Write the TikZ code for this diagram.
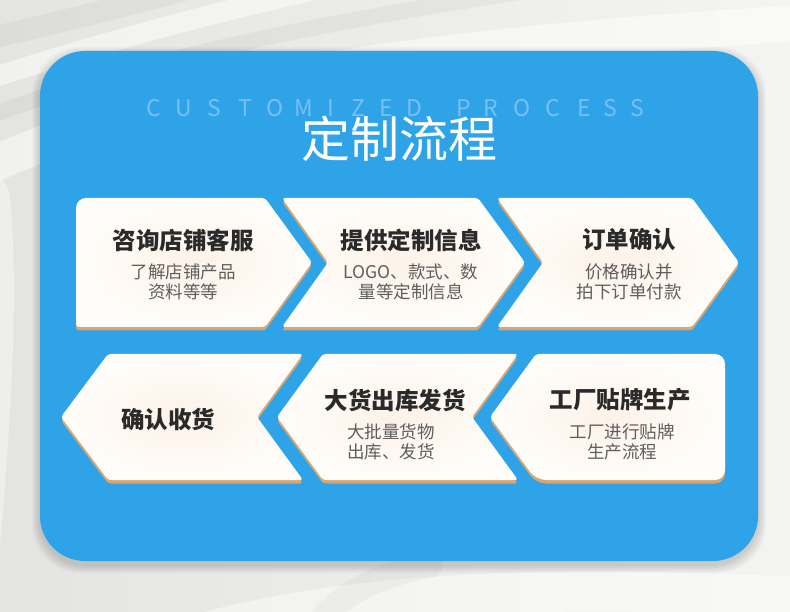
\documentclass[tikz,border=0pt]{standalone}
\usepackage{fontspec}
\setmainfont{Noto Sans CJK SC}
\definecolor{bgA}{HTML}{E4E4E2}
\definecolor{bgB}{HTML}{F4F4F2}
\definecolor{blueMain}{HTML}{2EA3E8}
\definecolor{cpText}{HTML}{78C0F0}
\definecolor{cardIn}{HTML}{FCF2E8}
\definecolor{cardOut}{HTML}{FFFDFA}
\definecolor{tanEdge}{HTML}{D6A674}
\definecolor{titleGray}{HTML}{2A2A2A}
\definecolor{subGray}{HTML}{5E5E5E}
\tikzset{
  cardtitle/.style={font=\fontsize{23.5}{26}\selectfont\bfseries, text=titleGray, inner sep=0pt},
  cardsub/.style={font=\fontsize{17.5}{20}\selectfont, text=subGray, align=center, inner sep=0pt},
  cardedge/.style={fill=tanEdge, shift={(0,3.5)}},
  cardbody/.style={inner color=cardIn, outer color=cardOut},
  fold/.style={line cap=round, opacity=0.5},
  shapeA/.style={insert path={(170,198) [rounded corners=3pt] -- (265,198) -- (312,262.5) -- (265,327) -- (76,327) [rounded corners=10pt] -- (76,198) -- cycle}},
  shapeB/.style={insert path={(380,198) [rounded corners=3pt] -- (478,198) -- (525,262.5) -- (478,327) -- (282,327) -- (328,262.5) -- (282,198) -- cycle}},
  shapeC/.style={insert path={(600,198) [rounded corners=3pt] -- (692,198) -- (739,262.5) -- (692,327) -- (497,327) -- (543,262.5) -- (497,198) -- cycle}},
  shapeD/.style={insert path={(200,354) [rounded corners=3pt] -- (303,354) -- (257,417) -- (303,480) -- (108,480) -- (61,417) -- (108,354) -- cycle}},
  shapeE/.style={insert path={(420,354) [rounded corners=3pt] -- (518,354) -- (472,417) -- (518,480) -- (323,480) -- (277,417) -- (323,354) -- cycle}},
  shapeF/.style={insert path={(630,354) [rounded corners=10pt] -- (725,354) -- (725,480) -- (536,480) [rounded corners=3pt] -- (490,417) -- (536,354) -- cycle}},
}
\begin{document}
\begin{tikzpicture}[x=1pt,y=-1pt]
\useasboundingbox (0,0) rectangle (790,612);
% background fabric
\begin{scope}
\clip (0,0) rectangle (790,612);
\shade[left color=bgA, right color=bgB] (0,0) rectangle (790,612);
\draw[fold, white, line width=36pt] (-60,190) .. controls (150,80) and (420,45) .. (850,20);
\draw[fold, black, opacity=0.035, line width=16pt] (-60,135) .. controls (140,55) and (330,20) .. (600,-20);
\draw[fold, white, line width=20pt] (-60,95) .. controls (90,45) and (200,15) .. (360,-20);
\draw[fold, black, opacity=0.03, line width=22pt] (-60,50) .. controls (60,22) and (120,8) .. (220,-20);
\draw[fold, white, opacity=0.4, line width=60pt] (-40,650) .. controls (-20,450) and (-10,300) .. (-20,200);
\draw[fold, white, opacity=0.45, line width=40pt] (150,650) .. controls (300,595) and (520,580) .. (850,600);
\draw[fold, black, opacity=0.03, line width=25pt] (300,650) .. controls (330,600) and (360,580) .. (430,565);
\end{scope}
% blue panel shadow
\foreach \i in {1,...,8}
  \fill[black, opacity=0.018, rounded corners=48pt] (40-\i,55-\i) rectangle (758+\i,565+\i);
\fill[blueMain, rounded corners=45pt] (40,51) rectangle (758,561);
% heading
\foreach \l/\x [count=\i] in {C/154,U/184,S/214,T/245,O/275,M/304,I/331,Z/358,E/386,D/414,P/464,R/491,O/522,C/553,E/584,S/610,S/637}
  \node[text=cpText, font=\fontsize{23}{26}\selectfont, inner sep=0pt] (cp\i) at (\x,108.5) {\l};
\node[text=white, font=\fontsize{49}{56}\selectfont, inner sep=0pt] (title) at (399.5,139) {定制流程};
% cards
\path[cardedge, shapeA];
\shade[cardbody, shapeA];
\path[cardedge, shapeB];
\shade[cardbody, shapeB];
\path[cardedge, shapeC];
\shade[cardbody, shapeC];
\path[cardedge, shapeD];
\shade[cardbody, shapeD];
\path[cardedge, shapeE];
\shade[cardbody, shapeE];
\path[cardedge, shapeF];
\shade[cardbody, shapeF];
% card texts
\node[cardtitle] (t1) at (183,240) {咨询店铺客服};
\node[cardsub] (s1) at (183,282) {了解店铺产品\\资料等等};
\node[cardtitle] (t2) at (411,240) {提供定制信息};
\node[cardsub] (s2) at (411,282) {LOGO、款式、数\\量等定制信息};
\node[cardtitle] (t3) at (629,240) {订单确认};
\node[cardsub] (s3) at (629,282) {价格确认并\\拍下订单付款};
\node[cardtitle] (t4) at (168,420) {确认收货};
\node[cardtitle] (t5) at (395,400) {大货出库发货};
\node[cardsub] (s5) at (391,442) {大批量货物\\出库、发货};
\node[cardtitle] (t6) at (620,400) {工厂贴牌生产};
\node[cardsub] (s6) at (622,442) {工厂进行贴牌\\生产流程};
\end{tikzpicture}
\end{document}
